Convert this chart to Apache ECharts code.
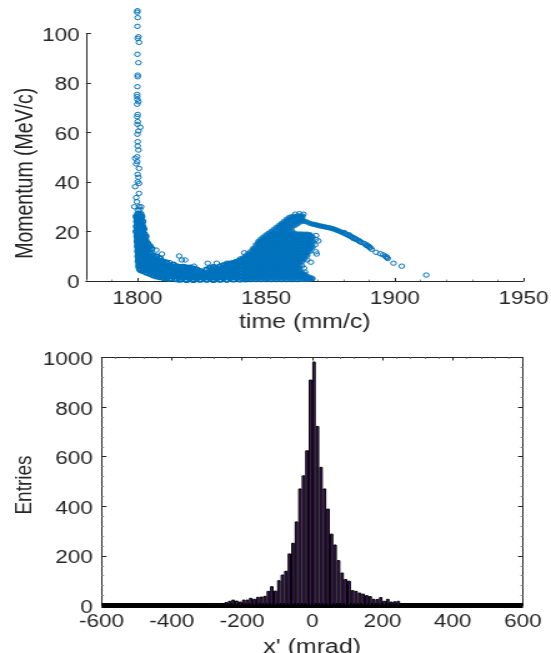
<!DOCTYPE html>
<html><head><meta charset="utf-8">
<style>html,body{margin:0;padding:0;background:#fff;overflow:hidden}
#c{width:441px;height:653px;transform-origin:0 0;transform:scaleX(1.2494)}</style>
<script src="https://cdn.jsdelivr.net/npm/echarts@6/dist/echarts.min.js"></script>
</head><body><div id="c"></div>
<script>
const spikePoints=[[1800,109.2],[1799.9,108.6],[1800.1,106.4],[1800,102.9],[1800.4,98.7],[1800.1,98],[1800.6,96.4],[1800,91.6],[1800.4,88.2],[1800.1,83.2],[1800.1,82.5],[1800,78.5],[1799.9,75.4],[1799.9,74.5],[1800,73.4],[1800.4,72.4],[1799.9,71.4],[1800.1,67.3],[1799.9,66.4],[1800.1,64.4],[1800,63.3],[1801.1,62.1],[1800.4,60.6],[1800,59.3],[1800.1,56.3],[1800.1,54.5],[1800.4,52.9],[1799.9,50.2],[1799.1,49.6],[1799.9,48.2],[1799.5,47.3],[1800.6,45.5],[1800.1,43.1],[1800.4,41.9],[1800.1,40.1],[1800.6,39.4],[1799.1,38.1],[1800.6,35.4],[1799.5,33.7],[1799.8,32],[1798.8,30],[1800.6,30],[1801.4,30],[1800.1,28.7],[1800.9,29]];
const legPoints=[[1800.2,27],[1801.2,27],[1799.6,26],[1800.8,26],[1801.6,26],[1800.1,25],[1801.3,25],[1799.8,24],[1800.9,24],[1802,24],[1800.3,23],[1801.5,23],[1799.7,22],[1800.8,22],[1802,22],[1800.2,21],[1801.4,21],[1802.4,21],[1799.6,20],[1800.7,20],[1801.9,20],[1800.1,19],[1801.2,19],[1802.6,19],[1799.9,18],[1800.9,18],[1802.1,18],[1803.2,18],[1800.2,17],[1801.4,17],[1802.7,17],[1800,16],[1801,16],[1802.1,16],[1803.3,16],[1800.3,15],[1801.5,15],[1802.8,15],[1804,15],[1800.1,14],[1801.1,14],[1802.3,14],[1803.6,14],[1804.8,14],[1800.4,13],[1801.6,13],[1802.9,13],[1804.2,13],[1805.5,13],[1800.2,12],[1801.3,12],[1802.5,12],[1800.5,11],[1801.7,11],[1800.3,10],[1801.4,10],[1800.6,9],[1801.6,9],[1800.4,8],[1801.3,8],[1800.8,7],[1801.5,7],[1800.6,6],[1801.5,6],[1800.9,5],[1801.2,4.4]];
const valleyTimes=[1802.2,1803.5,1804.8,1806.1,1807.4,1808.7,1810,1811.3,1812.6,1813.9,1815.2,1816.5,1817.8,1819.1,1820.4,1821.7,1823,1824.3,1825.6,1826.9,1828.2,1829.5,1830.8,1832.1,1833.4,1834.7,1836,1837.3,1838.6,1839.9];
const valleyMomenta=[[4,5.3,6.6,8,9.4,10.9],[3.4,4.7,6,7.3,8.6,10,11.4],[2.9,4.2,5.5,6.9,8.3,9.6,11],[2.3,3.6,5,6.2,7.6,9,10.4],[1.9,3.2,4.5,5.8,7.1,8.5,9.9],[1.6,2.9,4.2,5.5,6.8,8.1,9.2],[1.3,2.6,3.9,5.2,6.5,7.8],[1.1,2.4,3.7,5,6.3,7.4],[0.9,2.2,3.5,4.8,6.2],[1.6,3,4.3,5.6,6.6],[0.7,2,3.3,4.6,5.9],[0.5,1.4,2.8,4.1,5.6],[1.9,3.2,4.4,5.7],[0.4,1.5,2.7,4,5.4],[1.1,2.2,3.4,4.7,5.4],[0.4,1.6,2.9,4.2,5],[1,2.3,3.6,4.6],[0.5,1.7,3,4],[1.2,2.4,3.5],[0.5,1.8,3.1,4.6],[1,2.3,3.6,5.3],[0.4,1.7,3,4.3,5.6],[1.1,2.4,3.7,5],[0.5,1.8,3.1,4.4,5.8],[1.2,2.5,3.8,5.1,6.3],[0.5,1.9,3.2,4.5,5.8,6.6],[1.2,2.6,3.9,5.2,6.5,7],[0.6,1.9,3.3,4.6,5.9,7.2],[1.3,2.6,4,5.3,6.6,7.7],[0.6,2,3.3,4.7,6,7.3,8.2]];
const bumpTimes=[1841,1842,1843,1844,1845,1846,1847,1848,1849,1850,1851,1852,1853,1854,1855,1856,1857,1858,1859,1860,1861,1862,1863,1864,1865,1866,1867,1868];
const bumpMomenta=[
[0.7,2,3.3,4.7,6,7.3,8.6,9.4],
[0.4,1.6,2.9,4.1,5.4,6.7,8,9.3,10.2],
[1,2.2,3.5,4.8,6.1,7.4,8.7,10,11.1],
[0.5,1.7,2.9,4.2,5.5,6.8,8.1,9.4,10.7,11.9],
[1.1,2.3,3.6,4.9,6.2,7.5,8.8,10.1,11.4,12.7,13.2],
[0.5,1.7,3,4.3,5.6,6.9,8.2,9.5,10.8,12.1,13.4,14.6],
[1.1,2.4,3.7,5,6.3,7.6,8.9,10.2,11.5,12.8,14.1,15.4,16],
[0.5,1.8,3.1,4.4,5.7,7,8.3,9.6,10.9,12.2,13.5,14.8,16.1,17],
[1.2,2.5,3.8,5.1,6.4,7.7,9,10.3,11.6,12.9,14.2,15.5,16.8,17.8],
[0.5,1.9,3.2,4.5,5.8,7.1,8.4,9.7,11,12.3,13.6,14.9,16.2,17.5,18.6],
[1.2,2.5,3.8,5.1,6.4,7.7,9,10.3,11.6,12.9,14.2,15.5,16.8,18.1,19.4],
[0.5,1.9,3.2,4.5,5.8,7.1,8.4,9.7,11,12.3,13.6,14.9,16.2,17.5,18.8,20.1],
[1.2,2.5,3.8,5.1,6.4,7.7,9,10.3,11.6,12.9,14.2,15.5,16.8,18.1,19.4,20.9],
[0.5,1.9,3.2,4.5,5.8,7.1,8.4,9.7,11,12.3,13.6,14.9,16.2,17.5,18.8,20.1,21.7],
[1.2,2.5,3.8,5.1,6.4,7.7,9,10.3,11.6,12.9,14.2,15.5,16.8,18.1,19.4,20.7,21.9,22.5],
[0.5,1.9,3.2,4.5,5.8,7.1,8.4,9.7,11,12.3,13.6,14.9,16.2,17.5,18.8,20.1,21.4,22.7,23.3],
[1.2,2.5,3.8,5.1,6.4,7.7,9,10.3,11.6,12.9,14.2,15.5,16.8,18.1,19.4,20.7,22,23.3,24.1],
[0.5,1.9,3.2,4.5,5.8,7.1,8.4,9.7,11,12.3,13.6,14.9,16.2,17.5,18.8,20.1,21.4,22.7,24,25],
[1.2,2.5,3.8,5.1,6.4,7.7,9,10.3,11.6,12.9,14.2,15.5,16.8,18.1,19.4,20.7,22,23.3,24.6,25.7],
[0.5,1.9,3.2,4.5,5.8,7.1,8.4,9.7,11,12.3,13.6,14.9,16.2,17.5,18.8,20.3,21.8,23.2,24.9,26],
[1.2,2.5,3.8,5.1,6.4,7.7,9,10.3,11.6,12.9,14.2,15.5,16.8,18.1,19.4,22.4,23.7,25,26.1],
[0.5,1.9,3.2,4.5,5.8,7.1,8.4,9.7,11,12.3,13.6,14.9,16.2,17.5,19,23,24.1,25.2,26.2],
[1.3,2.6,3.9,5.2,6.5,7.8,9.1,10.4,11.6,13,14.3,15.6,16.9,18.2,19.1,23.7,24.7,25.5,26.3],
[0.6,1.9,3.2,7.9,8.9,10,11.3,12.6,13.9,15.2,16.5,17.8,19,24.2,25.2,26,26.3],
[0.6,1.7,2.8,9,10.3,11.6,12.9,14.2,15.5,16.8,18.1,19,24.1],
[0.8,1.9,10.4,11.4,12.7,14,15.3,16.6,17.9,18.9,23.8],
[0.7,1.5,12,13.2,14.5,15.8,17.1,18.4,18.7,23.3],
[0.9,13.6,15,16.6,17.8,23]];
const ridgeCore=[[1868.7,22.9],[1869.4,22.7],[1870.1,22.5],[1870.8,22.3],[1871.5,22.2],[1872.2,22],[1872.9,21.9],[1873.6,21.7],[1874.3,21.6],[1875,21.4],[1875.7,21.2],[1876.4,21],[1877.1,20.7],[1877.8,20.4],[1878.5,20.1],[1879.2,19.8],[1879.9,19.5]];
const ridgePoints=[[1864.5,27],[1880.3,19.6],[1880.7,19.1],[1881,19],[1881.6,18.6],[1882.2,18.7],[1882.4,18.2],[1882.8,18.1],[1883.2,17.8],[1883.6,17.6],[1884,17.1],[1884.4,17.3],[1884.8,16.9],[1885.2,16.8],[1885.7,16.4],[1886.2,16.2],[1886.5,15.9],[1886.9,15.6],[1888,15.2],[1888.6,14.9],[1888.9,14.4],[1889.2,14.4],[1889.5,14.1],[1889.9,14],[1890.2,13.6],[1890.5,13.4],[1891,12.8],[1892.7,11.6],[1894.4,11],[1895.4,10.6],[1896.4,10],[1896.8,9.7],[1897,9.4],[1897.2,9.1],[1899.5,7.2],[1902.7,6],[1912.2,2.4]];
const strayPoints=[[1870.3,16.2],[1869.3,11.8],[1869.6,10.9],[1867.4,7.6],[1866,8.5],[1867.8,1.1],[1866,0.7],[1866.9,13.2],[1869.3,16.8],[1869.4,18.4],[1869,14.6],[1864.7,5.2],[1863.9,6.1],[1865.1,3.6],[1864.4,2.4],[1862.9,27.2],[1861.3,27],[1816.2,10.1],[1817.2,8.5],[1818.5,8.5],[1807.3,12.5],[1809.5,10.9],[1805.6,13],[1827.3,7.2],[1830.8,7.2],[1834.7,7.2],[1841.5,11.4],[1839.9,8.9],[1837.5,7.5],[1812.6,7.4],[1822,6]];
const histStart=-600, binWidth=10;
const histCounts=[1,0,0,1,0,1,0,0,1,0,0,1,0,2,0,1,0,1,0,2,1,0,1,2,0,1,1,2,1,2,3,10,10,10,8,14,19,24,20,16,24,24,31,27,35,36,39,59,78,60,102,125,140,210,253,339,472,525,626,911,984,724,559,472,391,290,246,183,133,107,100,62,59,52,48,42,38,27,26,34,19,27,16,17,19,5,6,3,2,1,2,1,0,1,1,0,1,0,2,1,0,1,0,1,1,0,0,1,0,1,0,0,1,0,1,0,1,0,0,1];
const timeTicks=[1800,1850,1900,1950];
const inkColor='#262626', markerColor='#0072BD', barColor='#4B1A6E';
const font='"Liberation Sans",Arial,sans-serif';
const narrowFont='"Liberation Sans Narrow","Liberation Sans",Arial,sans-serif';

const expand=(ts,ps)=>ts.flatMap((t,i)=>ps[i].map(p=>[t,p]));
const ringData=[...spikePoints,...ridgePoints,...strayPoints];
const denseRingData=[...legPoints,...expand(valleyTimes,valleyMomenta)];
const solidData=[...expand(bumpTimes,bumpMomenta),...ridgeCore];
const histData=histCounts.map((v,i)=>[histStart+binWidth*i+binWidth/2,v]);

const line={lineStyle:{color:inkColor,width:1}};
const labelStyle={color:inkColor,fontSize:18,fontFamily:font};
const nameStyle=(s,extra)=>({color:inkColor,fontSize:s,fontFamily:font,...extra});
const plain=v=>String(v);
const loweredLabel={formatter:v=>'{a|'+v+'}',rich:{a:{...labelStyle,padding:[5,0,0,0]}}};
const chart=echarts.init(document.getElementById('c'),null,{renderer:'canvas'});
chart.setOption({
  animation:false,backgroundColor:'#fff',
  grid:[
    {left:68.8,width:350.2,top:33.5,height:247.5,outerBoundsMode:'none'},
    {left:81.2,width:337.4,top:357.5,height:248,outerBoundsMode:'none'}
  ],
  xAxis:[
    {gridIndex:0,type:'value',min:1780,max:1950,interval:10,position:'bottom',
     axisLine:{show:true,onZero:false,...line},splitLine:{show:false},
     axisTick:{show:true,inside:true,length:1.5,lineStyle:{color:'#888',width:1}},
     axisLabel:{...labelStyle,margin:9,customValues:timeTicks,formatter:plain,hideOverlap:false},
     name:'time (mm/c)',nameLocation:'middle',nameGap:31,nameMoveOverlap:false,nameTextStyle:nameStyle(20)},
    {gridIndex:0,type:'value',min:1780,max:1950,position:'bottom',
     axisLine:{show:false},splitLine:{show:false},
     axisTick:{show:true,inside:true,length:3,customValues:timeTicks,...line},
     axisLabel:{show:false}},
    {gridIndex:1,type:'value',min:-600,max:600,interval:200,position:'bottom',
     axisLine:{show:true,onZero:false,lineStyle:{color:'#000',width:5,cap:'butt'}},splitLine:{show:false},
     axisTick:{show:false},minorTick:{show:false},
     axisLabel:{...labelStyle,margin:8,formatter:plain,showMinLabel:true,showMaxLabel:true},
     name:"x' (mrad)",nameLocation:'middle',nameGap:32,nameMoveOverlap:false,nameTextStyle:nameStyle(20)},
    {gridIndex:1,type:'value',min:-600,max:600,interval:200,position:'top',
     axisLine:{show:true,onZero:false,...line},splitLine:{show:false},
     axisTick:{show:true,inside:true,length:3,...line},
     minorTick:{show:true,splitNumber:5,length:1.5,lineStyle:{color:'#888',width:1}},
     axisLabel:{show:false}}
  ],
  yAxis:[
    {gridIndex:0,type:'value',min:0,max:100,interval:20,position:'left',
     axisLine:{show:true,onZero:false,...line},splitLine:{show:false},
     axisTick:{show:true,inside:true,length:4,...line},
     axisLabel:{margin:5,...loweredLabel},
     name:'Momentum (MeV/c)',nameLocation:'middle',nameGap:38,nameMoveOverlap:false,nameTextStyle:nameStyle(19.5,{fontFamily:narrowFont,padding:[0,32,0,0]})},
    {gridIndex:1,type:'value',min:0,max:1000,interval:200,position:'left',
     axisLine:{show:true,onZero:false,...line},splitLine:{show:false},
     axisTick:{show:true,inside:true,length:4,...line},
     minorTick:{show:true,splitNumber:5,length:2,lineStyle:{color:'#888',width:1}},
     axisLabel:{margin:7,...loweredLabel},
     name:'Entries',nameLocation:'middle',nameGap:52,nameMoveOverlap:false,nameTextStyle:nameStyle(19,{fontFamily:narrowFont,padding:[0,7,0,0]})},
    {gridIndex:1,type:'value',min:0,max:1000,interval:200,position:'right',
     axisLine:{show:true,onZero:false,...line},splitLine:{show:false},
     axisTick:{show:true,inside:true,length:4,...line},
     minorTick:{show:true,splitNumber:5,length:2,lineStyle:{color:'#888',width:1}},
     axisLabel:{show:false}}
  ],
  series:[
    {type:'scatter',xAxisIndex:0,yAxisIndex:0,data:solidData,symbol:'circle',symbolSize:5.2,clip:false,
     itemStyle:{color:markerColor,borderWidth:0}},
    {type:'scatter',xAxisIndex:0,yAxisIndex:0,data:denseRingData,symbol:'circle',symbolSize:4.4,clip:false,
     itemStyle:{color:'rgba(0,0,0,0)',borderColor:markerColor,borderWidth:1.8,opacity:1}},
    {type:'scatter',xAxisIndex:0,yAxisIndex:0,data:ringData,symbol:'circle',symbolSize:4.4,clip:false,
     itemStyle:{color:'rgba(0,0,0,0)',borderColor:markerColor,borderWidth:1,opacity:1}},
    {type:'bar',xAxisIndex:2,yAxisIndex:1,data:histData,barWidth:'100%',clip:false,
     itemStyle:{color:barColor,borderColor:'#000',borderWidth:1}}
  ]
});
</script></body></html>
